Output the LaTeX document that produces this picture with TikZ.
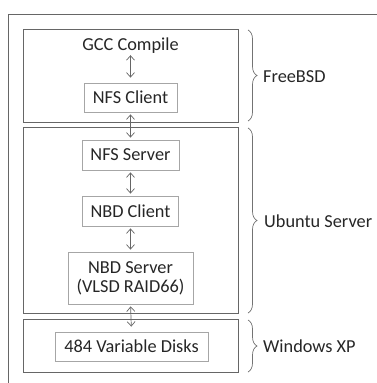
\documentclass[tikz,border=0pt]{standalone}
\usepackage{fontspec}
\setmainfont{Carlito}
\usetikzlibrary{arrows.meta,decorations.pathreplacing}
\begin{document}
\begin{tikzpicture}[x=1pt,y=-1pt,
  every node/.style={font=\fontsize{18.3}{21}\selectfont, text=black!85},
  group/.style={draw=black!60, line width=0.9pt, inner sep=0pt},
  comp/.style={draw=black!35, line width=0.8pt, inner sep=0pt},
  link/.style={draw=black!60, line width=0.7pt, {Straight Barb[length=4.5pt,width=8pt]}-{Straight Barb[length=4.5pt,width=8pt]}, shorten <=2pt, shorten >=2pt},
  brc/.style={draw=black!55, line width=0.7pt, decorate, decoration={brace, amplitude=9pt}},
  lbl/.style={anchor=west, inner sep=0pt}]
\useasboundingbox (0,0) rectangle (377,383);
\draw[draw=black!60, line width=0.9pt] (8,384) -- (8,14) -- (378,14);
% groups
\node[group, minimum width=215pt, minimum height=93pt] (free) at (130.5,75.5) {};
\node[group, minimum width=215pt, minimum height=186pt] (ubu) at (130.5,220) {};
\node[group, minimum width=215pt, minimum height=53pt] (win) at (130.5,345.5) {};
% components
\node[inner sep=0pt, minimum height=16pt] (gcc) at (130.5,46) {GCC Compile};
\node[comp, minimum width=93pt, minimum height=29pt] (nfsc) at (130.5,97.5) {NFS Client};
\node[comp, minimum width=97pt, minimum height=30pt] (nfss) at (130.5,155) {NFS Server};
\node[comp, minimum width=96pt, minimum height=30pt] (nbdc) at (130.5,211) {NBD Client};
\node[comp, minimum width=125pt, minimum height=52pt, align=center] (nbds) at (130.5,278) {NBD Server\\[-2pt](VLSD RAID66)};
\node[comp, minimum width=153pt, minimum height=29pt] (disk) at (131.5,346.5) {484 Variable Disks};
% links
\draw[link, shorten <=1pt, shorten >=5pt] (gcc) -- (nfsc);
\draw[link] (nfsc) -- (nfss);
\draw[link] (nfss) -- (nbdc);
\draw[link] (nbdc) -- (nbds);
\draw[link, shorten >=5pt] (nbds.south) -- (disk.north);
% braces
\coordinate (fb1) at (248,30); \coordinate (fb2) at (248,121);
\coordinate (ub1) at (248,128); \coordinate (ub2) at (248,313);
\coordinate (wb1) at (248,320); \coordinate (wb2) at (248,372);
\draw[brc] (fb1) -- (fb2);
\draw[brc] (ub1) -- (ub2);
\draw[brc] (wb1) -- (wb2);
\node[lbl] (lfree) at (263,77) {FreeBSD};
\node[lbl] (lubu) at (264,221) {Ubuntu Server};
\node[lbl] (lwin) at (263,346) {Windows XP};
\end{tikzpicture}
\end{document}
